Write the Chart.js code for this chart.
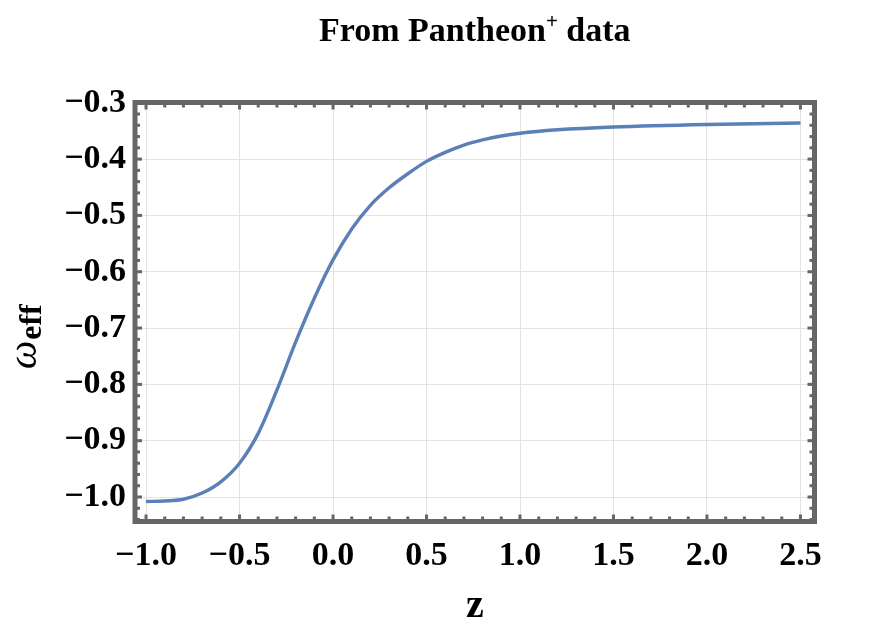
<!DOCTYPE html>
<html>
<head>
<meta charset="utf-8">
<script src="https://cdn.jsdelivr.net/npm/chart.js@4"></script>
<style>
    html, body { margin: 0; padding: 0; background: #fff; }
    #wrap { width: 872px; height: 626px; }
</style>
</head>
<body>
<div id="wrap"><canvas id="chart" width="872" height="626"></canvas></div>
<script>
// Data
const zValues = [-1.0, -0.9, -0.8, -0.7, -0.6, -0.5, -0.4, -0.3, -0.2, -0.1, 0.0, 0.1, 0.2, 0.3, 0.4, 0.5, 0.6, 0.7, 0.8, 0.9, 1.0, 1.2, 1.5, 2.0, 2.5];
const wEff = [-1.008, -1.007, -1.004, -0.993, -0.973, -0.94, -0.887, -0.81, -0.725, -0.647, -0.579, -0.524, -0.482, -0.451, -0.426, -0.404, -0.388, -0.375, -0.366, -0.359, -0.354, -0.348, -0.343, -0.3385, -0.336];

const xTicks = [-1.0, -0.5, 0.0, 0.5, 1.0, 1.5, 2.0, 2.5];
const yTicks = [-1.0, -0.9, -0.8, -0.7, -0.6, -0.5, -0.4, -0.3];

const titleText = 'From Pantheon';
const xTitle = 'z';

const serif = "'Liberation Serif', 'Times New Roman', serif";
const frameColor = '#666666';

const fmt = v => v.toFixed(1).replace('-', '\u2212');

// frame, inward ticks and the labels Chart.js can't do (superscript / subscript)
const framePlugin = {
    id: 'frame',
    afterDraw(chart) {
        const { ctx, chartArea: a, scales } = chart;
        const xs = scales.x, ys = scales.y;
        ctx.save();

        // ticks (minor every 0.1 in z, every 0.02 in w)
        ctx.fillStyle = frameColor;
        for (let i = -10; i <= 25; i++) {
            const px = xs.getPixelForValue(i / 10);
            const len = (i % 5 === 0) ? 7 : 5;
            ctx.fillRect(px - 1.5, a.top, 3, len);
            ctx.fillRect(px - 1.5, a.bottom - len, 3, len);
        }
        for (let i = -52; i <= -15; i++) {
            const py = ys.getPixelForValue(i / 50);
            const len = (i % 5 === 0) ? 7 : 5;
            ctx.fillRect(a.left, py - 1.5, len, 3);
            ctx.fillRect(a.right - len, py - 1.5, len, 3);
        }

        // frame
        ctx.strokeStyle = frameColor;
        ctx.lineWidth = 5;
        ctx.strokeRect(a.left, a.top, a.right - a.left, a.bottom - a.top);

        ctx.fillStyle = '#000';
        const cx = (a.left + a.right) / 2;

        // title with superscript plus
        const big = 'bold 34px ' + serif, small = 'bold 21px ' + serif;
        ctx.font = big;
        const w1 = ctx.measureText(titleText).width;
        const w2 = ctx.measureText(' data').width;
        ctx.font = small;
        const wp = ctx.measureText('+').width;
        let tx = cx - (w1 + wp + w2) / 2;
        ctx.textBaseline = 'alphabetic';
        ctx.textAlign = 'left';
        ctx.font = big;
        ctx.fillText(titleText, tx, 41);
        ctx.font = small;
        ctx.fillText('+', tx + w1, 28);
        ctx.font = big;
        ctx.fillText(' data', tx + w1 + wp, 41);

        // x title
        ctx.font = 'bold 40px ' + serif;
        ctx.textAlign = 'center';
        ctx.fillText(xTitle, 475, 617);

        // y title: omega_eff, rotated
        ctx.translate(36, 369);
        ctx.rotate(-Math.PI / 2);
        ctx.textAlign = 'left';
        ctx.font = 'italic 40px ' + serif;
        ctx.fillText('\u03c9', 0, 0);
        const wo = ctx.measureText('\u03c9').width;
        ctx.font = 'bold 32px ' + serif;
        ctx.fillText('eff', wo + 1, 5);
        ctx.restore();
    }
};

new Chart(document.getElementById('chart'), {
    type: 'line',
    data: {
        datasets: [{
            data: zValues.map((z, i) => ({ x: z, y: wEff[i] })),
            borderColor: '#5b80b8',
            borderWidth: 3.4,
            pointRadius: 0,
            fill: false,
            cubicInterpolationMode: 'monotone'
        }]
    },
    options: {
        responsive: false,
        animation: false,
        layout: { padding: { left: 0, top: 102.5, right: 57.5, bottom: 0 } },
        plugins: {
            legend: { display: false },
            tooltip: { enabled: false }
        },
        scales: {
            x: {
                type: 'linear',
                min: -1.059,
                max: 2.575,
                afterFit: s => { s.height = 626 - 521.5; },
                afterBuildTicks: s => { s.ticks = xTicks.map(v => ({ value: v })); },
                border: { display: false },
                grid: { color: '#e3e3e3', lineWidth: 1, drawTicks: false },
                ticks: {
                    padding: 14,
                    color: '#000',
                    font: { family: serif, size: 34, weight: 'bold' },
                    callback: v => fmt(v)
                }
            },
            y: {
                type: 'linear',
                min: -1.0435,
                max: -0.2995,
                afterFit: s => { s.width = 135; },
                afterBuildTicks: s => { s.ticks = yTicks.map(v => ({ value: v })); },
                border: { display: false },
                grid: { color: '#e3e3e3', lineWidth: 1, drawTicks: false },
                ticks: {
                    padding: 9,
                    color: '#000',
                    font: { family: serif, size: 34, weight: 'bold' },
                    callback: v => fmt(v)
                }
            }
        }
    },
    plugins: [framePlugin]
});
</script>
</body>
</html>
